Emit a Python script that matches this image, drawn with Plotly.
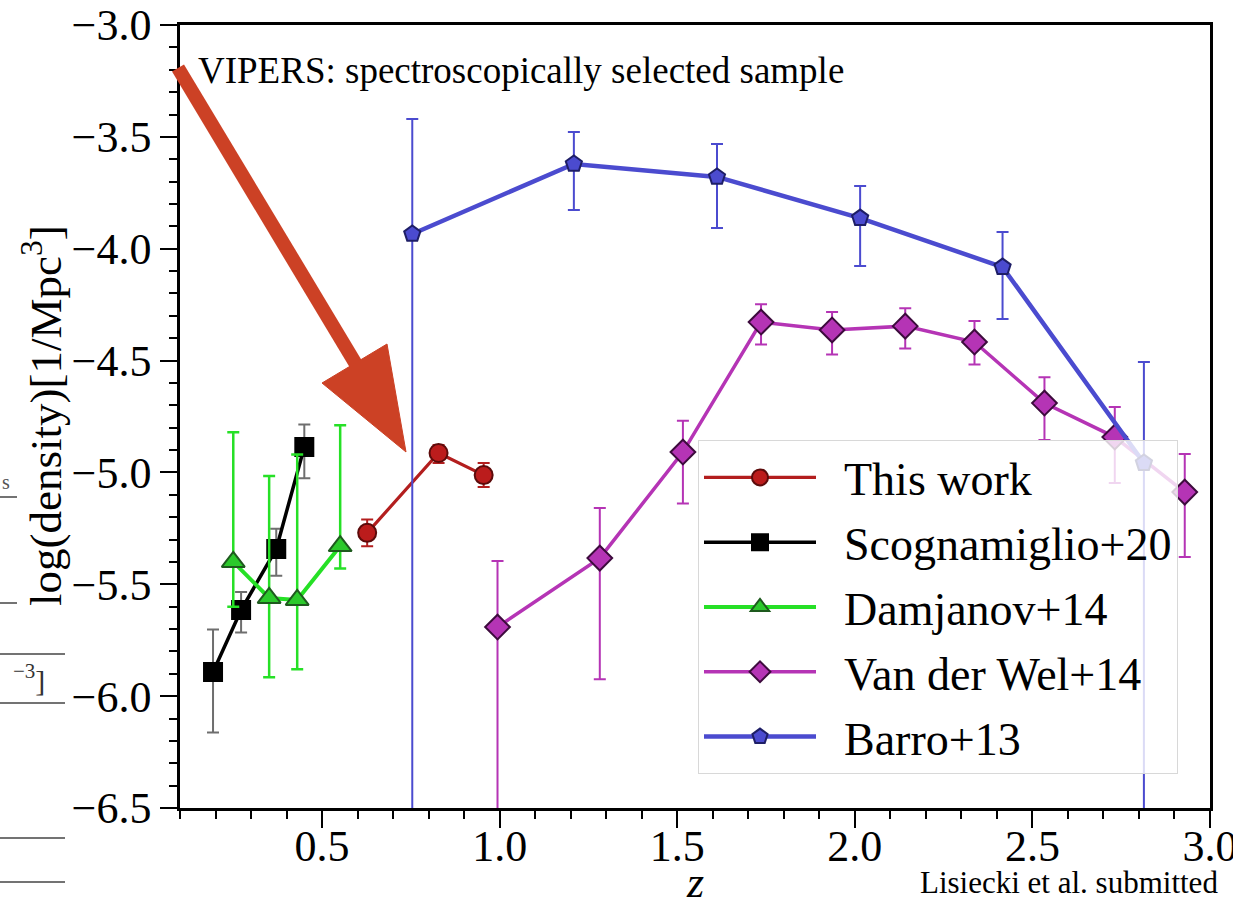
import plotly.graph_objects as go

# ---------------- data ----------------
this_z = [0.627, 0.828, 0.955]
this_y = [-5.27, -4.913, -5.012]
this_ep = [0.06, 0.036, 0.054]
this_em = [0.06, 0.045, 0.053]

sco_z = [0.193, 0.272, 0.371, 0.450]
sco_y = [-5.892, -5.615, -5.342, -4.886]
sco_ep = [0.19, 0.08, 0.09, 0.10]
sco_em = [0.27, 0.10, 0.12, 0.14]

dam_z = [0.250, 0.351, 0.430, 0.551]
dam_y = [-5.40, -5.561, -5.570, -5.329]
dam_ep = [0.58, 0.545, 0.65, 0.54]
dam_em = [0.20, 0.354, 0.31, 0.10]

vdw_z = [0.994, 1.282, 1.516, 1.736, 1.936, 2.142, 2.337, 2.534, 2.732, 2.929]
vdw_y = [-5.691, -5.383, -4.909, -4.328, -4.363, -4.346, -4.417, -4.690, -4.842, -5.088]
vdw_ep = [0.295, 0.224, 0.14, 0.08, 0.08, 0.08, 0.094, 0.116, 0.134, 0.17]
vdw_em = [1.2, 0.541, 0.23, 0.10, 0.11, 0.10, 0.10, 0.165, 0.205, 0.29]

bar_z = [0.754, 1.209, 1.612, 2.015, 2.416, 2.814]
bar_y = [-3.934, -3.621, -3.679, -3.863, -4.082, -4.958]
bar_ep = [0.514, 0.143, 0.147, 0.143, 0.157, 0.452]
bar_em = [3.0, 0.206, 0.228, 0.214, 0.232, 3.0]

series_names = ["This work", "Scognamiglio+20", "Damjanov+14", "Van der Wel+14", "Barro+13"]

x_range = [0.1, 3.0001]
y_range = [-6.5, -2.9999]

FONT = "Liberation Serif"

# figure geometry (pixels)
W, H = 1233, 909
ML, MR, MT, MB = 180, 23, 25, 101
PW, PH = W - ML - MR, H - MT - MB


def px(x):
    return (x - ML) / PW


def py(y):
    return (H - MB - y) / PH


fig = go.Figure()
PAD = "\u00a0\u00a0"


def add_series(name, xs, ys, ep, em, color, ecolor, symbol, size, fill, edge, lw=3.5, ew=2):
    fig.add_trace(go.Scatter(
        x=xs, y=ys, name=PAD + name, legendgroup=name, mode="lines+markers",
        line=dict(color=color, width=lw),
        marker=dict(symbol=symbol, size=size, color=fill, line=dict(color=edge, width=2)),
        error_y=dict(type="data", symmetric=False, array=ep, arrayminus=em,
                     color=ecolor, thickness=ew, width=6),
        cliponaxis=True,
    ))


add_series(series_names[0], this_z, this_y, this_ep, this_em, "#B31E1E", "#B31E1E",
           "circle", 18, "#BB1C1C", "#5C0B0B", lw=3.2)
add_series(series_names[1], sco_z, sco_y, sco_ep, sco_em, "#000000", "#6E6E6E",
           "square", 18, "#000000", "#000000", lw=3.5)
add_series(series_names[2], dam_z, dam_y, dam_ep, dam_em, "#26E026", "#26E026",
           "triangle-up", 20, "#2CC92C", "#1E5A1E", lw=4, ew=2.5)
add_series(series_names[3], vdw_z, vdw_y, vdw_ep, vdw_em, "#B534B5", "#B534B5",
           "diamond", 19, "#B534B5", "#3D0B3D", lw=3.5)
add_series(series_names[4], bar_z, bar_y, bar_ep, bar_em, "#4B4BCF", "#4B4BCF",
           "pentagon", 17, "#4B4BCF", "#1E1E66", lw=4.5)

axis_common = dict(
    showline=True, linecolor="black", linewidth=2.5, mirror=True,
    ticks="outside", ticklen=17, tickwidth=2, tickcolor="black",
    showgrid=False, zeroline=False, automargin=False,
    tickfont=dict(family=FONT, size=44, color="black"),
    tickformat=".1f", dtick=0.5, ticklabeloverflow="allow",
    minor=dict(ticks="outside", ticklen=8, tickwidth=1.5, tickcolor="black", dtick=0.1, showgrid=False),
)

fig.update_xaxes(range=x_range, tick0=0.5, ticklabelstandoff=-20, **axis_common)
fig.update_yaxes(range=y_range, tick0=-3.0, **axis_common)

fig.update_layout(
    width=W, height=H,
    margin=dict(l=ML, r=MR, t=MT, b=MB, autoexpand=False),
    paper_bgcolor="white", plot_bgcolor="white",
    font=dict(family=FONT, color="black"),
    legend=dict(
        x=px(698), y=py(440), xanchor="left", yanchor="top",
        bgcolor="rgba(255,255,255,0.8)", bordercolor="#D8D8D8", borderwidth=1,
        font=dict(family=FONT, size=46, color="black"),
        itemwidth=112, tracegroupgap=2,
    ),
    showlegend=True,
)

# text annotations
fig.add_annotation(text="log(density)[1/Mpc<sup>3</sup>]", xref="paper", yref="paper",
                   x=px(42), y=py(416), textangle=-90, showarrow=False,
                   xanchor="center", yanchor="middle",
                   font=dict(family=FONT, size=45, color="black"))
fig.add_annotation(text="<i>z</i>", xref="paper", yref="paper",
                   x=px(695), y=py(909), showarrow=False, xanchor="center", yanchor="bottom",
                   font=dict(family=FONT, size=44, color="black"))
fig.add_annotation(text="VIPERS: spectroscopically selected sample", xref="paper", yref="paper",
                   x=px(196), y=py(70), showarrow=False, xanchor="left", yanchor="middle",
                   font=dict(family=FONT, size=37, color="black"))
fig.add_annotation(text="Lisiecki et al. submitted", xref="paper", yref="paper",
                   x=px(1220), y=py(882), showarrow=False, xanchor="right", yanchor="middle",
                   font=dict(family=FONT, size=31, color="black"))

# red arrow overlay
ARROW = "#CC4125"
fig.add_shape(type="line", xref="paper", yref="paper",
              x0=px(178), y0=py(68), x1=px(357), y1=py(366),
              line=dict(color=ARROW, width=14))
fig.add_shape(type="path", xref="paper", yref="paper",
              path=f"M{px(322)},{py(383)} L{px(387)},{py(344)} L{px(406)},{py(452)} Z",
              fillcolor=ARROW, line=dict(color=ARROW, width=1))

# fragments of the slide behind, at the left edge
for (x0, x1, yy) in [(0, 17, 497), (0, 17, 603), (0, 65, 654), (0, 65, 703), (0, 65, 838), (0, 65, 882)]:
    fig.add_shape(type="line", xref="paper", yref="paper",
                  x0=px(x0), x1=px(x1), y0=py(yy), y1=py(yy),
                  line=dict(color="#444444", width=1.5))
fig.add_annotation(text="s", xref="paper", yref="paper", x=px(0), y=py(482), showarrow=False,
                   xanchor="left", yanchor="middle", font=dict(family=FONT, size=20, color="#555555"))
fig.add_annotation(text="<sup>−3</sup>]", xref="paper", yref="paper", x=px(47), y=py(678), showarrow=False,
                   xanchor="right", yanchor="middle", font=dict(family=FONT, size=30, color="#333333"))

fig.write_html("out.html")
